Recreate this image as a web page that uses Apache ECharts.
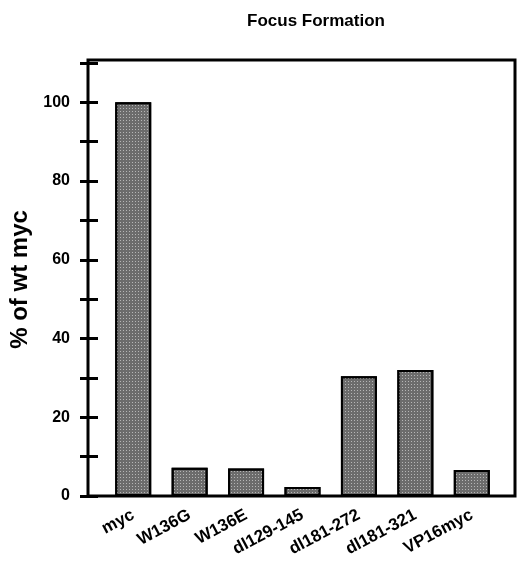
<!DOCTYPE html>
<html>
<head>
<meta charset="utf-8">
<script src="https://cdn.jsdelivr.net/npm/echarts@6/dist/echarts.min.js"></script>
<style>
  html, body { margin: 0; padding: 0; background: #fff; }
  #chart { width: 518px; height: 564px; }
</style>
</head>
<body>
<div id="chart"></div>
<script>
var categories = ['myc', 'W136G', 'W136E', 'dl129-145', 'dl181-272', 'dl181-321', 'VP16myc'];
var values = [100, 7.2, 7, 2.3, 30.4, 32, 6.6];
var yTicks = [0, 20, 40, 60, 80, 100];

var font = '"Liberation Sans", Arial, Helvetica, sans-serif';
var chart = echarts.init(document.getElementById('chart'));

var option = {
  backgroundColor: '#fff',
  animation: false,
  title: {
    text: 'Focus Formation',
    left: 311,
    top: 8,
    textAlign: 'center',
    textStyle: { fontFamily: font, fontWeight: 'bold', fontSize: 17, color: '#000' }
  },
  grid: [
    // frame
    { left: 88, right: 3, top: 60, bottom: 68, show: true, borderColor: '#000', borderWidth: 3, backgroundColor: 'transparent' },
    // data
    { left: 105, right: 18, top: 63, bottom: 68 }
  ],
  xAxis: [
    { gridIndex: 0, type: 'value', show: false, min: 0, max: 1 },
    {
      gridIndex: 1,
      type: 'category',
      data: categories,
      axisLine: { show: false },
      axisTick: { show: false },
      axisLabel: {
        rotate: 28,
        margin: 18,
        interval: 0,
        color: '#000',
        fontFamily: font,
        fontWeight: 'bold',
        fontSize: 17
      }
    }
  ],
  yAxis: [
    { gridIndex: 0, type: 'value', show: false, min: 0, max: 1 },
    {
      gridIndex: 1,
      type: 'value',
      min: 0,
      max: 110,
      interval: 10,
      offset: 17,
      name: '% of wt myc',
      nameLocation: 'middle',
      nameGap: 46,
      nameTextStyle: { fontFamily: font, fontWeight: 'bold', fontSize: 24, color: '#000' },
      axisLine: { show: false },
      splitLine: { show: false },
      axisTick: { show: true, length: 8, lineStyle: { color: '#000', width: 3 } },
      axisLabel: {
        margin: 18,
        color: '#000',
        fontFamily: font,
        fontWeight: 'bold',
        fontSize: 16,
        formatter: function (v) { return yTicks.indexOf(v) >= 0 ? v : ''; }
      }
    },
    {
      gridIndex: 1,
      type: 'value',
      position: 'left',
      min: 0,
      max: 110,
      interval: 10,
      offset: 17,
      axisLine: { show: false },
      splitLine: { show: false },
      axisLabel: { show: false },
      axisTick: { show: true, inside: true, length: 10, lineStyle: { color: '#000', width: 3 } }
    }
  ],
  series: [
    {
      type: 'bar',
      xAxisIndex: 1,
      yAxisIndex: 1,
      data: values,
      barWidth: 36,
      itemStyle: {
        color: '#6c6c6c',
        borderColor: '#000',
        borderWidth: 2,
        decal: {
          symbol: 'rect',
          symbolSize: 1,
          color: 'rgba(255,255,255,0.5)',
          dashArrayX: [1, 2],
          dashArrayY: [1, 2],
          rotation: 0
        }
      }
    }
  ]
};

chart.setOption(option);
</script>
</body>
</html>
